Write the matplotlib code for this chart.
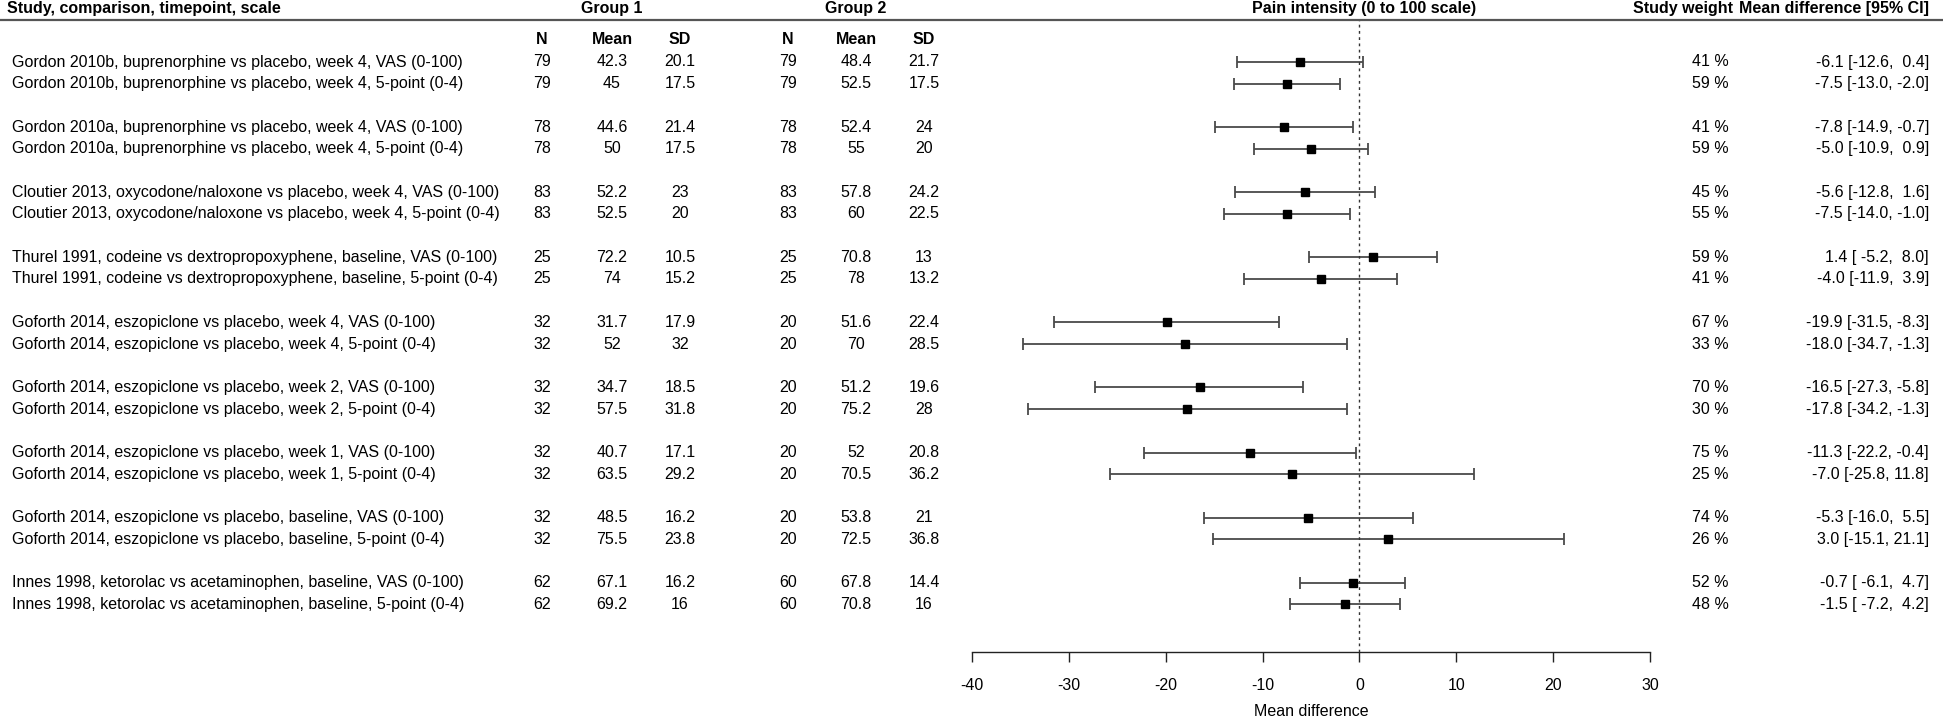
import numpy as np
import matplotlib
matplotlib.use("Agg")
import matplotlib.pyplot as plt
from matplotlib.lines import Line2D
from matplotlib.transforms import blended_transform_factory

plt.rcParams['font.family'] = ['Liberation Sans', 'DejaVu Sans']

labels = [
    "Gordon 2010b, buprenorphine vs placebo, week 4, VAS (0-100)",
    "Gordon 2010b, buprenorphine vs placebo, week 4, 5-point (0-4)",
    "Gordon 2010a, buprenorphine vs placebo, week 4, VAS (0-100)",
    "Gordon 2010a, buprenorphine vs placebo, week 4, 5-point (0-4)",
    "Cloutier 2013, oxycodone/naloxone vs placebo, week 4, VAS (0-100)",
    "Cloutier 2013, oxycodone/naloxone vs placebo, week 4, 5-point (0-4)",
    "Thurel 1991, codeine vs dextropropoxyphene, baseline, VAS (0-100)",
    "Thurel 1991, codeine vs dextropropoxyphene, baseline, 5-point (0-4)",
    "Goforth 2014, eszopiclone vs placebo, week 4, VAS (0-100)",
    "Goforth 2014, eszopiclone vs placebo, week 4, 5-point (0-4)",
    "Goforth 2014, eszopiclone vs placebo, week 2, VAS (0-100)",
    "Goforth 2014, eszopiclone vs placebo, week 2, 5-point (0-4)",
    "Goforth 2014, eszopiclone vs placebo, week 1, VAS (0-100)",
    "Goforth 2014, eszopiclone vs placebo, week 1, 5-point (0-4)",
    "Goforth 2014, eszopiclone vs placebo, baseline, VAS (0-100)",
    "Goforth 2014, eszopiclone vs placebo, baseline, 5-point (0-4)",
    "Innes 1998, ketorolac vs acetaminophen, baseline, VAS (0-100)",
    "Innes 1998, ketorolac vs acetaminophen, baseline, 5-point (0-4)",
]

n1 = [79, 79, 78, 78, 83, 83, 25, 25, 32, 32, 32, 32, 32, 32, 32, 32, 62, 62]
mean1 = [42.3, 45, 44.6, 50, 52.2, 52.5, 72.2, 74, 31.7, 52, 34.7, 57.5, 40.7, 63.5, 48.5, 75.5, 67.1, 69.2]
sd1 = [20.1, 17.5, 21.4, 17.5, 23, 20, 10.5, 15.2, 17.9, 32, 18.5, 31.8, 17.1, 29.2, 16.2, 23.8, 16.2, 16]
n2 = [79, 79, 78, 78, 83, 83, 25, 25, 20, 20, 20, 20, 20, 20, 20, 20, 60, 60]
mean2 = [48.4, 52.5, 52.4, 55, 57.8, 60, 70.8, 78, 51.6, 70, 51.2, 75.2, 52, 70.5, 53.8, 72.5, 67.8, 70.8]
sd2 = [21.7, 17.5, 24, 20, 24.2, 22.5, 13, 13.2, 22.4, 28.5, 19.6, 28, 20.8, 36.2, 21, 36.8, 14.4, 16]
weights = [41, 59, 41, 59, 45, 55, 59, 41, 67, 33, 70, 30, 75, 25, 74, 26, 52, 48]
md = [-6.1, -7.5, -7.8, -5.0, -5.6, -7.5, 1.4, -4.0, -19.9, -18.0, -16.5, -17.8, -11.3, -7.0, -5.3, 3.0, -0.7, -1.5]
ci_lo = [-12.6, -13.0, -14.9, -10.9, -12.8, -14.0, -5.2, -11.9, -31.5, -34.7, -27.3, -34.2, -22.2, -25.8, -16.0, -15.1, -6.1, -7.2]
ci_hi = [0.4, -2.0, -0.7, 0.9, 1.6, -1.0, 8.0, 3.9, -8.3, -1.3, -5.8, -1.3, -0.4, 11.8, 5.5, 21.1, 4.7, 4.2]
xticks = [-40, -30, -20, -10, 0, 10, 20, 30]

W, H = 1943, 726
FS = 11.5
fig = plt.figure(figsize=(W / 100, H / 100), dpi=100)

# forest axes: x from -40..30, top at header rule, bottom at axis line
top_px, axis_px = 20, 652
row0_px, pitch = 62, 21.7
ax = fig.add_axes([972 / W, 1 - axis_px / H, (1650 - 972) / W, (axis_px - top_px) / H])
ax.set_xlim(-40, 30)
ax.set_ylim((axis_px - row0_px) / pitch, (top_px - row0_px) / pitch)

rows = np.array([3 * (i // 2) + i % 2 for i in range(len(md))])
md_a = np.array(md)
err = np.vstack([md_a - np.array(ci_lo), np.array(ci_hi) - md_a])
ax.errorbar(md_a, rows, xerr=err, fmt='none', ecolor='#4a4a4a', elinewidth=1.3,
            capsize=4.5, capthick=1.3)
ax.plot(md_a, rows, 's', color='black', markersize=6, zorder=3)
ax.axvline(0, color='#333333', ls=(0, (2, 2.5)), lw=1)

for s in ['top', 'right', 'left']:
    ax.spines[s].set_visible(False)
ax.spines['bottom'].set_bounds(-40, 30)
ax.spines['bottom'].set_linewidth(1)
ax.spines['bottom'].set_color('#222222')
ax.set_yticks([])
ax.set_xticks(xticks)
ax.set_xticklabels([f"{t:d}" for t in xticks])
ax.tick_params(axis='x', length=7, width=1, color='#222222', pad=12, labelsize=FS)
ax.set_xlabel("Mean difference", fontsize=FS, labelpad=8)

# table text, rows in data coords of the forest axes
tr = blended_transform_factory(fig.transFigure, ax.transData)
cols = [(n1, 542), (mean1, 612), (sd1, 680), (n2, 788), (mean2, 856), (sd2, 924)]
for i, r in enumerate(rows):
    ax.text(12 / W, r, labels[i], transform=tr, ha='left', va='center', fontsize=FS, clip_on=False)
    for vals, xp in cols:
        ax.text(xp / W, r, f"{vals[i]:g}", transform=tr, ha='center', va='center', fontsize=FS, clip_on=False)
    ax.text(1692 / W, r, f"{weights[i]} %", transform=tr, ha='left', va='center', fontsize=FS, clip_on=False)
    ax.text(1929 / W, r, f"{md[i]:.1f} [{ci_lo[i]:5.1f}, {ci_hi[i]:4.1f}]", transform=tr,
            ha='right', va='center', fontsize=FS, clip_on=False)

# headers
hy = 1 - 9 / H
fig.text(7 / W, hy, "Study, comparison, timepoint, scale", ha='left', va='center', fontsize=FS, fontweight='bold')
fig.text(612 / W, hy, "Group 1", ha='center', va='center', fontsize=FS, fontweight='bold')
fig.text(856 / W, hy, "Group 2", ha='center', va='center', fontsize=FS, fontweight='bold')
fig.text(1364 / W, hy, "Pain intensity (0 to 100 scale)", ha='center', va='center', fontsize=FS, fontweight='bold')
fig.text(1733 / W, hy, "Study weight", ha='right', va='center', fontsize=FS, fontweight='bold')
fig.text(1929 / W, hy, "Mean difference [95% CI]", ha='right', va='center', fontsize=FS, fontweight='bold')
sy = 1 - 39 / H
for txt, xp in [("N", 542), ("Mean", 612), ("SD", 680), ("N", 788), ("Mean", 856), ("SD", 924)]:
    fig.text(xp / W, sy, txt, ha='center', va='center', fontsize=FS, fontweight='bold')

fig.add_artist(Line2D([0, 1], [1 - top_px / H] * 2, transform=fig.transFigure, color='#555555', lw=1.6))

fig.savefig("out.png", dpi=100)
